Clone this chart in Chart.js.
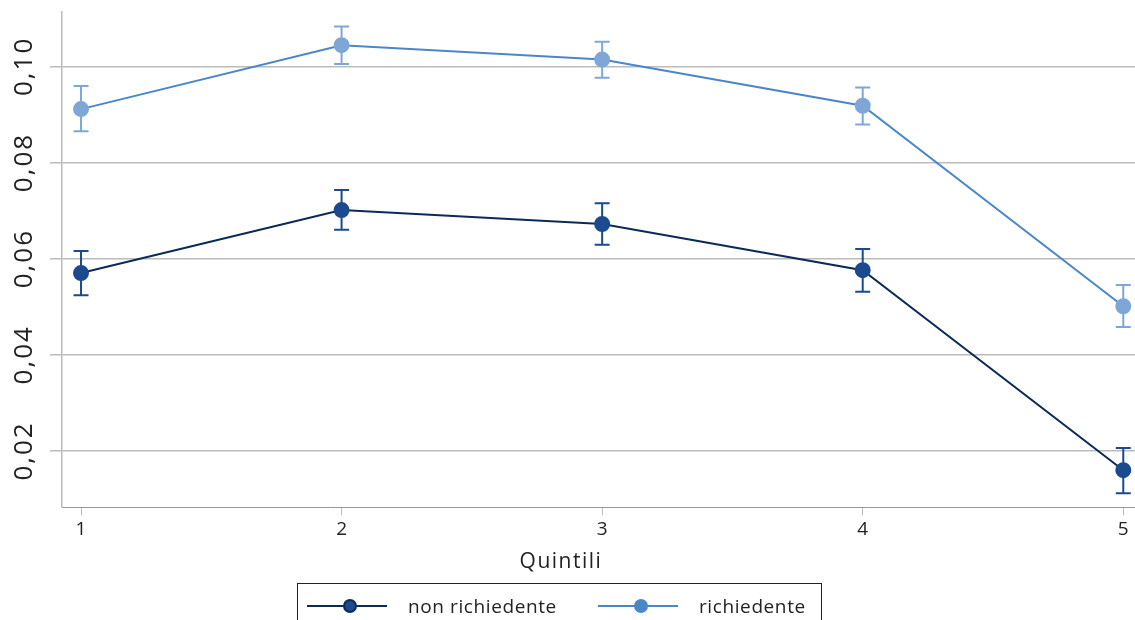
<!DOCTYPE html>
<html>
<head>
<meta charset="utf-8">
<script src="https://cdn.jsdelivr.net/npm/chart.js@4/dist/chart.umd.min.js"></script>
<style>
    body { margin: 0; background: #fff; }
    .wrap { position: relative; width: 1135px; height: 620px; overflow: hidden; font-family: "Open Sans", "Noto Sans", sans-serif; color: #222; }
    #chart { position: absolute; left: 0; top: 0; }
    .xtitle { position: absolute; left: 461px; width: 200px; top: 546px; text-align: center; font-size: 21px; letter-spacing: 1.5px; }
    .legend { position: absolute; left: 297px; top: 583px; width: 525px; height: 60px; border: 1px solid #222; box-sizing: border-box; }
    .item { position: absolute; top: 9px; font-size: 19px; line-height: 26px; letter-spacing: 0.6px; }
    .swatch { position: absolute; top: 21px; height: 2px; width: 80px; }
    .dot { position: absolute; top: 15px; width: 14px; height: 14px; border-radius: 50%; box-sizing: border-box; }
</style>
</head>
<body>
<div class="wrap">
    <canvas id="chart" width="1135" height="620"></canvas>
    <div class="xtitle">Quintili</div>
    <div class="legend">
        <div class="swatch" style="left:9px; background:#0b2a55;"></div>
        <div class="dot" style="left:45px; background:#1b4a8e; border:2px solid #0b2a55;"></div>
        <div class="item" style="left:110px;">non richiedente</div>
        <div class="swatch" style="left:300px; background:#4a87c9;"></div>
        <div class="dot" style="left:336px; background:#4a87c9;"></div>
        <div class="item" style="left:401px;">richiedente</div>
    </div>
</div>
<script>
// quintiles on the x axis
let quintili = [1, 2, 3, 4, 5];
let yTicks = [0.02, 0.04, 0.06, 0.08, 0.10];

// non richiedente
let nonRich = [0.0570, 0.0701, 0.0672, 0.0576, 0.0160];
let nonRichLo = [0.0524, 0.0660, 0.0629, 0.0531, 0.0112];
let nonRichHi = [0.0616, 0.0743, 0.0715, 0.0620, 0.0206];

// richiedente
let rich = [0.0911, 0.1044, 0.1014, 0.0918, 0.0501];
let richLo = [0.0865, 0.1005, 0.0976, 0.0879, 0.0458];
let richHi = [0.0959, 0.1083, 0.1051, 0.0956, 0.0545];

function toPoints(ys) {
    return quintili.map((x, i) => ({ x: x, y: ys[i] }));
}

let errors = [
    { lo: nonRichLo, hi: nonRichHi, color: "#1b4a8e" },
    { lo: richLo, hi: richHi, color: "#7ea7d8" },
];

// draws error bars under the markers
const errorBars = {
    id: "errorBars",
    beforeDatasetsDraw(chart) {
        const ctx = chart.ctx;
        const xs = chart.scales.x, ys = chart.scales.y;
        ctx.save();
        errors.forEach(e => {
            ctx.strokeStyle = e.color;
            ctx.lineWidth = 2;
            quintili.forEach((q, i) => {
                let px = xs.getPixelForValue(q);
                let top = ys.getPixelForValue(e.hi[i]);
                let bot = ys.getPixelForValue(e.lo[i]);
                ctx.beginPath();
                ctx.moveTo(px, top); ctx.lineTo(px, bot);
                ctx.moveTo(px - 7.5, top); ctx.lineTo(px + 7.5, top);
                ctx.moveTo(px - 7.5, bot); ctx.lineTo(px + 7.5, bot);
                ctx.stroke();
            });
        });
        ctx.restore();
    }
};

// rotated y tick labels
const yLabels = {
    id: "yLabels",
    afterDraw(chart) {
        const ctx = chart.ctx;
        const ys = chart.scales.y;
        ctx.save();
        ctx.fillStyle = "#222";
        ctx.font = '26px "Open Sans", "Noto Sans", sans-serif';
        ctx.letterSpacing = "2px";
        ctx.textAlign = "center";
        ctx.textBaseline = "middle";
        yTicks.forEach(v => {
            ctx.save();
            ctx.translate(25, ys.getPixelForValue(v));
            ctx.rotate(-Math.PI / 2);
            ctx.fillText(v.toFixed(2).replace(".", ","), 0, 0);
            ctx.restore();
        });
        ctx.restore();
    }
};

new Chart(document.getElementById("chart"), {
    type: "line",
    data: {
        datasets: [{
            label: "non richiedente",
            data: toPoints(nonRich),
            borderColor: "#0b2a55",
            backgroundColor: "#1b4a8e",
            pointBackgroundColor: "#1b4a8e",
            pointBorderColor: "#1b4a8e",
            borderWidth: 2,
            pointRadius: 7,
            fill: false,
            tension: 0,
        }, {
            label: "richiedente",
            data: toPoints(rich),
            borderColor: "#4a87c9",
            backgroundColor: "#7ea7d8",
            pointBackgroundColor: "#7ea7d8",
            pointBorderColor: "#7ea7d8",
            borderWidth: 2,
            pointRadius: 7,
            fill: false,
            tension: 0,
        }]
    },
    options: {
        responsive: false,
        animation: false,
        layout: { autoPadding: false, padding: { left: 50, top: 12, right: 0, bottom: 76 } },
        plugins: { legend: { display: false }, tooltip: { enabled: false } },
        scales: {
            x: {
                type: "linear",
                min: 0.927,
                max: 5.045,
                afterBuildTicks: s => { s.ticks = quintili.map(v => ({ value: v })); },
                grid: { drawOnChartArea: false, drawTicks: true, tickLength: 8, color: "#bbb" },
                border: { color: "#999", width: 1 },
                ticks: {
                    color: "#222",
                    padding: 3,
                    font: { family: '"Open Sans", "Noto Sans", sans-serif', size: 19 },
                    maxRotation: 0,
                },
            },
            y: {
                min: 0.0083,
                max: 0.1113,
                afterBuildTicks: s => { s.ticks = yTicks.map(v => ({ value: v })); },
                grid: { color: "#bbb", lineWidth: 1.5, drawTicks: true, tickLength: 12 },
                border: { color: "#bbb", width: 1.5 },
                ticks: { display: false },
            }
        }
    },
    plugins: [errorBars, yLabels]
});
</script>
</body>
</html>
